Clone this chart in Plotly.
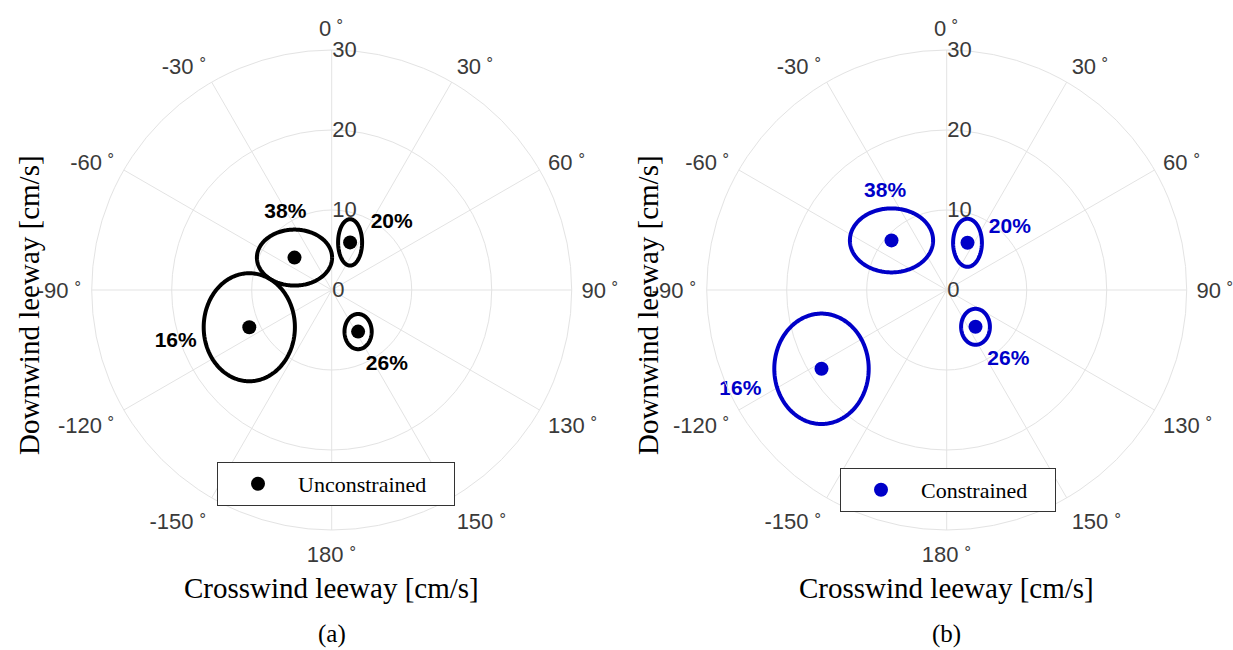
import numpy as np
import plotly.graph_objects as go

# ---------------- data ----------------
clusters = ["38%", "20%", "16%", "26%"]

# panel (a) unconstrained: ellipse centres and semi-axes (cm/s)
unc_cx = [-4.65, 2.3, -10.3, 3.3]
unc_cy = [4.05, 5.95, -4.65, -5.2]
unc_ax = [4.7, 1.5, 5.7, 1.7]
unc_ay = [3.5, 2.9, 6.75, 2.2]
unc_lx = [-5.8, 7.5, -19.5, 6.9]
unc_ly = [9.6, 8.4, -6.5, -9.4]

# panel (b) constrained
con_cx = [-6.9, 2.6, -15.65, 3.6]
con_cy = [6.2, 5.9, -9.85, -4.6]
con_ax = [5.2, 1.8, 5.9, 1.8]
con_ay = [4.0, 3.0, 6.9, 2.25]
con_lx = [-7.7, 7.9, -25.8, 7.7]
con_ly = [12.25, 7.75, -12.5, -8.75]

ang_vals = [0, 30, 60, 90, 120, 150, 180, 210, 240, 270, 300, 330]
ang_text = ["0", "30", "60", "90", "130", "150", "180", "-150", "-120", "-90", "-60", "-30"]
rad_vals = [0, 10, 20, 30]


def to_polar(x, y):
    x = np.asarray(x, dtype=float)
    y = np.asarray(y, dtype=float)
    r = np.hypot(x, y)
    th = np.degrees(np.arctan2(x, y))
    return r, th


fig = go.Figure()
t = np.linspace(0, 2 * np.pi, 241)

panels = [
    ("polar", unc_cx, unc_cy, unc_ax, unc_ay, unc_lx, unc_ly, "black",
     "Unconstrained\u2003", "legend"),
    ("polar2", con_cx, con_cy, con_ax, con_ay, con_lx, con_ly, "rgb(0,0,200)",
     "Constrained\u2003", "legend2"),
]

for sub, cx, cy, ax, ay, lx, ly, col, name, leg in panels:
    for i in range(len(cx)):
        ex = cx[i] + ax[i] * np.cos(t)
        ey = cy[i] + ay[i] * np.sin(t)
        r, th = to_polar(ex, ey)
        fig.add_trace(go.Scatterpolar(r=r, theta=th, mode="lines", subplot=sub,
                                      line=dict(color=col, width=4), showlegend=False,
                                      hoverinfo="skip"))
    r, th = to_polar(cx, cy)
    fig.add_trace(go.Scatterpolar(r=r, theta=th, mode="markers", subplot=sub, name=name,
                                  marker=dict(color=col, size=14), legend=leg))
    r, th = to_polar(lx, ly)
    fig.add_trace(go.Scatterpolar(r=r, theta=th, mode="text", subplot=sub, text=clusters,
                                  textfont=dict(color=col, size=21, family="Liberation Sans"),
                                  texttemplate="<b>%{text}</b>", showlegend=False))

grid = "#e3e3e3"
tickfont = dict(family="Liberation Sans", size=22, color="#3a3a3a")


def polar_layout(domx):
    return dict(
        domain=dict(x=domx, y=[(650 - 530) / 650, (650 - 50) / 650]),
        bgcolor="white",
        angularaxis=dict(rotation=90, direction="clockwise", tickmode="array",
                         tickvals=ang_vals,
                         ticktext=[s + "<sup> ∘</sup>" for s in ang_text],
                         tickfont=tickfont, showline=True, linecolor=grid, linewidth=1,
                         gridcolor=grid, ticks="outside", ticklen=5,
                         tickcolor="rgba(0,0,0,0)"),
        radialaxis=dict(range=[0, 30], tickmode="array", tickvals=rad_vals,
                        ticktext=[str(v) for v in rad_vals], angle=90, tickangle=90,
                        showline=False, gridcolor=grid, tickfont=tickfont, ticks=""),
    )


legfont = dict(family="Liberation Serif", size=22, color="black")
fig.update_layout(
    width=1233, height=650,
    margin=dict(l=0, r=0, t=0, b=0),
    paper_bgcolor="white",
    polar=polar_layout([91.7 / 1233, 571.7 / 1233]),
    polar2=polar_layout([706.7 / 1233, 1186.7 / 1233]),
    legend=dict(x=217 / 1233, y=(650 - 462) / 650, xanchor="left", yanchor="top",
                bordercolor="#333", borderwidth=1, bgcolor="white", itemwidth=70,
                font=legfont),
    legend2=dict(x=840 / 1233, y=(650 - 468) / 650, xanchor="left", yanchor="top",
                 bordercolor="#333", borderwidth=1, bgcolor="white", itemwidth=70,
                 font=legfont),
)

serif = dict(family="Liberation Serif", size=29, color="black")
for xc, lab in [(331.7, "(a)"), (946.7, "(b)")]:
    fig.add_annotation(x=xc / 1233, y=(650 - 588) / 650, xref="paper", yref="paper",
                       xanchor="center", yanchor="middle",
                       text="Crosswind leeway [cm/s]", showarrow=False, font=serif)
    fig.add_annotation(x=xc / 1233, y=(650 - 634) / 650, xref="paper", yref="paper",
                       xanchor="center", yanchor="middle",
                       text=lab, showarrow=False,
                       font=dict(family="Liberation Serif", size=25, color="black"))
for xc in [29, 648]:
    fig.add_annotation(x=xc / 1233, y=(650 - 305) / 650, xref="paper", yref="paper",
                       xanchor="center", yanchor="middle",
                       text="Downwind leeway [cm/s]", showarrow=False, textangle=-90,
                       font=serif)

fig.write_html("out.html")
